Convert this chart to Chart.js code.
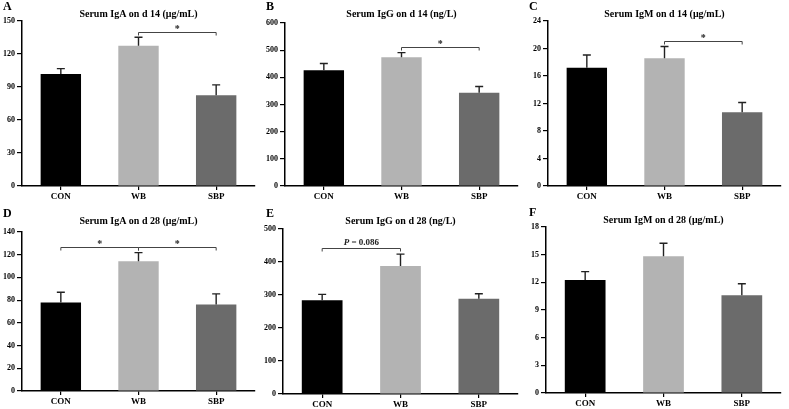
<!DOCTYPE html>
<html>
<head>
<meta charset="utf-8">
<script src="https://cdn.jsdelivr.net/npm/chart.js@4.4.1/dist/chart.umd.min.js"></script>
<style>
  html, body { margin: 0; padding: 0; background: #fff; }
  #wrap { position: relative; width: 789px; height: 409px; overflow: hidden; }
  .panel { position: absolute; }
</style>
</head>
<body>
<div id="wrap"></div>
<script>
// ---------- data ----------
const categories = ['CON', 'WB', 'SBP'];
const colors = ['#000000', '#b3b3b3', '#6b6b6b'];

const igA14 = [101.9, 127.6, 82.5];
const igA14Err = [4.8, 7.6, 9.4];
const igG14 = [426.5, 474, 343];
const igG14Err = [24.5, 17, 23.5];
const igM14 = [17.2, 18.58, 10.74];
const igM14Err = [1.86, 1.72, 1.4];
const igA28 = [77.9, 114.2, 76.2];
const igA28Err = [9.1, 7.6, 9.3];
const igG28 = [283.8, 387.9, 289];
const igG28Err = [18.2, 36.1, 15];
const igM28 = [12.25, 14.82, 10.59];
const igM28Err = [0.91, 1.41, 1.26];

const yMaxes = [150, 600, 24, 140, 500, 18];
const ySteps = [30, 100, 4, 20, 100, 3];
const titles = [
  'Serum IgA on d 14 (\u03bcg/mL)',
  'Serum IgG on d 14 (ng/L)',
  'Serum IgM on d 14 (\u03bcg/mL)',
  'Serum IgA on d 28 (\u03bcg/mL)',
  'Serum IgG on d 28 (ng/L)',
  'Serum IgM on d 28 (\u03bcg/mL)'
];
const letters = ['A', 'B', 'C', 'D', 'E', 'F'];
// brackets: [fromIndex, toIndex, yValue, label]
const brackets = [
  [[1, 2, 140, '*']],
  [[1, 2, 512, '*']],
  [[1, 2, 21.05, '*']],
  [[0, 1, 127.1, '*'], [1, 2, 127.1, '*']],
  [[0, 1, 441, 'P = 0.086']],
  []
];

const seriesVals = [igA14, igG14, igM14, igA28, igG28, igM28];
const seriesErr = [igA14Err, igG14Err, igM14Err, igA28Err, igG28Err, igM28Err];

// ---------- layout (pixels) ----------
const panels = [
  { x: 0,   y: 0,   w: 263, h: 205, left: 22, top: 21, bottom: 186, right: 8, titleY: 14, letterY: 7 },
  { x: 263, y: 0,   w: 263, h: 205, left: 22, top: 23, bottom: 186, right: 8, titleY: 14, letterY: 7 },
  { x: 526, y: 0,   w: 263, h: 205, left: 22, top: 21, bottom: 186, right: 8, titleY: 14, letterY: 7 },
  { x: 0,   y: 205, w: 263, h: 204, left: 22, top: 27, bottom: 186, right: 8, titleY: 16, letterY: 9 },
  { x: 263, y: 205, w: 263, h: 204, left: 20, top: 24, bottom: 189, right: 8, titleY: 16, letterY: 9 },
  { x: 526, y: 205, w: 263, h: 204, left: 20, top: 22, bottom: 188, right: 8, titleY: 15, letterY: 8 }
];

const SERIF = '"Liberation Serif", "Times New Roman", serif';

const decorPlugin = {
  id: 'decor',
  afterDatasetsDraw(chart, args, opts) {
    const ctx = chart.ctx;
    const meta = chart.getDatasetMeta(0);
    const ys = chart.scales.y;
    const ca = chart.chartArea;
    const vals = opts.vals, errs = opts.errs;
    ctx.save();
    // error bars
    ctx.strokeStyle = '#222';
    ctx.lineWidth = 1.4;
    for (let i = 0; i < vals.length; i++) {
      const x = meta.data[i].x;
      const yb = ys.getPixelForValue(vals[i]);
      const yt = ys.getPixelForValue(vals[i] + errs[i]);
      ctx.beginPath();
      ctx.moveTo(x, yb);
      ctx.lineTo(x, yt);
      ctx.moveTo(x - 4, yt);
      ctx.lineTo(x + 4, yt);
      ctx.stroke();
    }
    // brackets
    ctx.strokeStyle = '#444';
    ctx.lineWidth = 1;
    ctx.fillStyle = '#222';
    ctx.textAlign = 'center';
    ctx.textBaseline = 'alphabetic';
    for (const b of opts.brackets) {
      const x1 = meta.data[b[0]].x, x2 = meta.data[b[1]].x;
      const y = Math.round(ys.getPixelForValue(b[2])) + 0.5;
      ctx.beginPath();
      ctx.moveTo(x1, y + 3);
      ctx.lineTo(x1, y);
      ctx.lineTo(x2, y);
      ctx.lineTo(x2, y + 3);
      ctx.stroke();
      const xm = (x1 + x2) / 2;
      if (b[3] === '*') {
        ctx.font = 'bold 10px ' + SERIF;
        ctx.fillText('*', xm, y - 1);
      } else {
        // "P = 0.086" with italic P
        const rest = ' = 0.086';
        ctx.font = 'bold 9px ' + SERIF;
        const wr = ctx.measureText(rest).width;
        ctx.font = 'italic bold 9px ' + SERIF;
        const wp = ctx.measureText('P').width;
        const x0 = xm - (wr + wp) / 2;
        ctx.textAlign = 'left';
        ctx.fillText('P', x0, y - 4);
        ctx.font = 'bold 9px ' + SERIF;
        ctx.fillText(rest, x0 + wp, y - 4);
        ctx.textAlign = 'center';
      }
    }
    // title
    ctx.fillStyle = '#000';
    ctx.font = 'bold 10px ' + SERIF;
    ctx.textAlign = 'center';
    ctx.textBaseline = 'middle';
    ctx.fillText(opts.title, (ca.left + ca.right) / 2, opts.titleY);
    // letter
    ctx.font = 'bold 12px ' + SERIF;
    ctx.textAlign = 'left';
    ctx.fillText(opts.letter, 3, opts.letterY);
    ctx.restore();
  }
};

const wrap = document.getElementById('wrap');
panels.forEach((p, k) => {
  const div = document.createElement('div');
  div.className = 'panel';
  div.style.left = p.x + 'px';
  div.style.top = p.y + 'px';
  div.style.width = p.w + 'px';
  div.style.height = p.h + 'px';
  const cv = document.createElement('canvas');
  cv.width = p.w;
  cv.height = p.h;
  cv.style.width = p.w + 'px';
  cv.style.height = p.h + 'px';
  div.appendChild(cv);
  wrap.appendChild(div);

  new Chart(cv, {
    type: 'bar',
    data: {
      labels: categories,
      datasets: [{
        data: seriesVals[k],
        backgroundColor: colors,
        borderWidth: 0,
        barPercentage: 0.52,
        categoryPercentage: 1.0
      }]
    },
    options: {
      responsive: false,
      animation: false,
      devicePixelRatio: 1,
      layout: { padding: { left: 0, right: p.right, top: p.top, bottom: 0 } },
      plugins: {
        legend: { display: false },
        tooltip: { enabled: false },
        title: { display: false },
        decor: {
          vals: seriesVals[k], errs: seriesErr[k], brackets: brackets[k],
          title: titles[k], letter: letters[k], titleY: p.titleY, letterY: p.letterY
        }
      },
      scales: {
        x: {
          type: 'category',
          offset: true,
          grid: { display: true, drawOnChartArea: false, drawTicks: true, tickLength: 4, offset: false, color: '#000', lineWidth: 1.2 },
          border: { display: true, color: '#000', width: 1.5 },
          ticks: { color: '#000', padding: 1, font: { family: SERIF, size: 9, weight: 'bold' } },
          afterFit(scale) { scale.height = p.h - p.bottom; }
        },
        y: {
          min: 0,
          max: yMaxes[k],
          grid: { display: true, drawOnChartArea: false, drawTicks: true, tickLength: 5, color: '#000', lineWidth: 1.2 },
          border: { display: true, color: '#000', width: 1.5 },
          ticks: { stepSize: ySteps[k], color: '#000', padding: 2, font: { family: SERIF, size: 8, weight: 'bold' } },
          afterFit(scale) { scale.width = p.left; }
        }
      }
    },
    plugins: [decorPlugin]
  });
});
</script>
</body>
</html>
